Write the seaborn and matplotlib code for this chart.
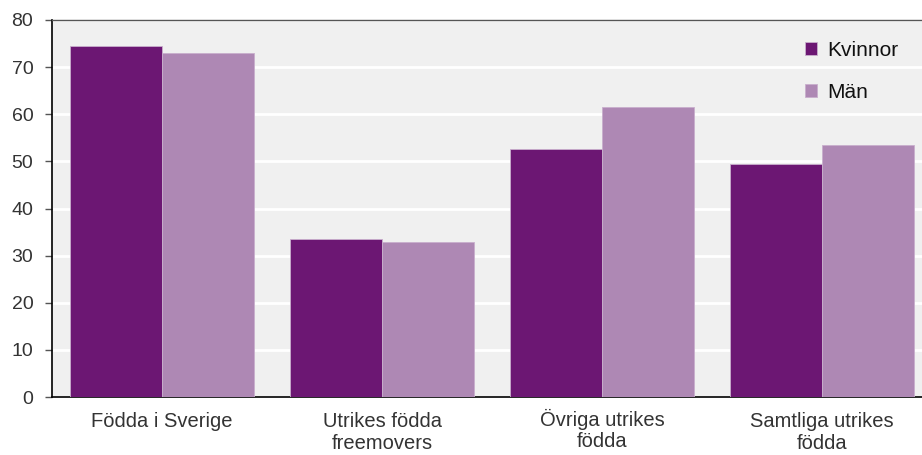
import matplotlib
matplotlib.use("Agg")
import matplotlib.pyplot as plt
import matplotlib.transforms as mtransforms
import seaborn as sns
import pandas as pd

categories = ["Födda i Sverige", "Utrikes födda\nfreemovers", "Övriga utrikes\nfödda", "Samtliga utrikes\nfödda"]
kvinnor = [74.5, 33.5, 52.6, 49.4]
man = [73.1, 32.8, 61.6, 53.5]
series = ["Kvinnor", "Män"]
colors = ["#6C1773", "#AE88B4"]
yticks = [0, 10, 20, 30, 40, 50, 60, 70, 80]

df = pd.DataFrame({
    "cat": categories * 2,
    "val": kvinnor + man,
    "sex": [series[0]] * 4 + [series[1]] * 4,
})

sns.set_theme(style="white")
plt.rcParams['font.family'] = ['Liberation Sans', 'DejaVu Sans']

fig = plt.figure(figsize=(9.22, 4.55), dpi=100)
ax = fig.add_axes([52/922, 58/455, 870/922, 377/455])
ax.set_facecolor("#F0F0F0")

sns.barplot(data=df, x="cat", y="val", hue="sex", palette=colors, saturation=1,
            width=0.833, ax=ax, edgecolor="#C9AFCD", linewidth=0.6, zorder=3)

ax.set_xlim(-0.5, 3.4545)
ax.set_ylim(0, 80)
ax.set_yticks(yticks)
ax.yaxis.grid(True, color="white", linewidth=2, zorder=0)
ax.set_axisbelow(True)
ax.set_xlabel("")
ax.set_ylabel("")
ax.tick_params(axis="y", left=True, length=5, width=1, color="#555555", labelsize=14, labelcolor="#333333", pad=8.5)
ax.tick_params(axis="x", bottom=False, labelsize=14.5, labelcolor="#333333", pad=5)
for lbl in ax.get_xticklabels():
    lbl.set_linespacing(1.17)
    lbl.set_verticalalignment("top")
    if lbl.get_text().startswith("Ö"):
        lbl.set_transform(lbl.get_transform() +
                          mtransforms.ScaledTranslation(0, 3.5 / 100, fig.dpi_scale_trans))

for s in ["left", "bottom"]:
    ax.spines[s].set_color("black")
    ax.spines[s].set_linewidth(1.2)
ax.spines["top"].set_color("#555555")
ax.spines["top"].set_linewidth(1)
ax.spines["right"].set_visible(False)

leg = ax.legend(loc="upper left", bbox_to_anchor=(0.866, 0.945), frameon=False,
                borderaxespad=0, borderpad=0,
                fontsize=15, handlelength=0.55, handleheight=0.55, handletextpad=0.5,
                labelspacing=1.1)
for t in leg.get_texts():
    t.set_color("#111111")

fig.savefig("out.png", dpi=100)
